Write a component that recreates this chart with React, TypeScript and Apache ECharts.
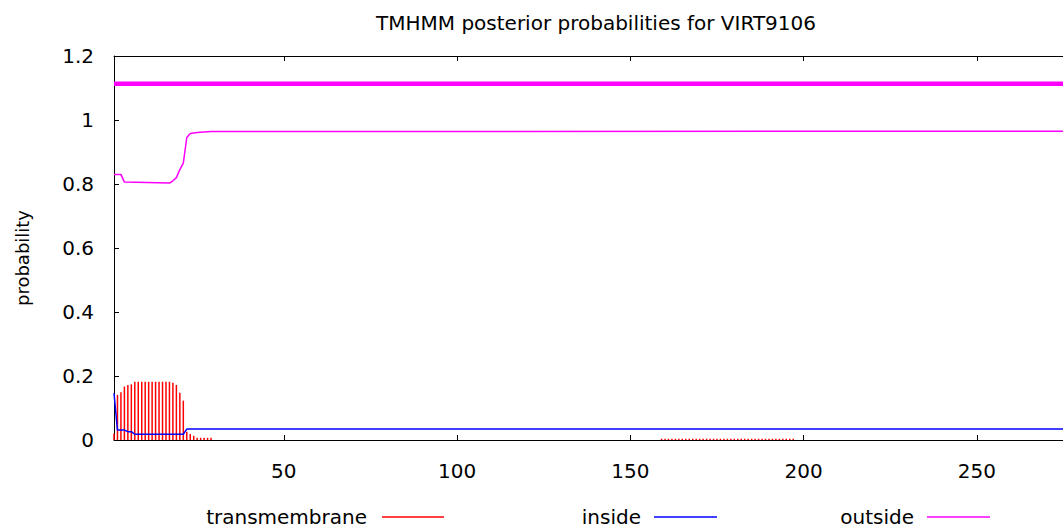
import React, { useEffect, useRef } from "react";
import * as echarts from "echarts";

// ---- data ----
const titleText = "TMHMM posterior probabilities for VIRT9106";
const yLabel = "probability";
const xTickValues = [50, 100, 150, 200, 250];
const xMin = 1;
const xMax = 276;

// transmembrane posterior (impulses)
const tmResidues = [
  1, 2, 3, 4, 5, 6, 7, 8, 9, 10, 11, 12, 13, 14, 15, 16, 17, 18, 19, 20, 21, 22, 23, 24, 25, 26, 27, 28, 29,
];
const tmValues = [
  0.02, 0.141, 0.149, 0.167, 0.172, 0.174, 0.182, 0.182, 0.182, 0.182, 0.182, 0.182, 0.182, 0.182, 0.182,
  0.182, 0.182, 0.179, 0.172, 0.148, 0.123, 0.026, 0.019, 0.013, 0.007, 0.007, 0.007, 0.007, 0.007,
];
const tmLowResidues = [
  159, 160, 161, 162, 163, 164, 165, 166, 167, 168, 169, 170, 171, 172, 173, 174, 175, 176, 177, 178, 179,
  180, 181, 182, 183, 184, 185, 186, 187, 188, 189, 190, 191, 192, 193, 194, 195, 196, 197,
];
const tmLowValues = [
  0.004, 0.004, 0.004, 0.004, 0.004, 0.004, 0.004, 0.004, 0.004, 0.004, 0.004, 0.004, 0.004, 0.004, 0.004,
  0.004, 0.004, 0.004, 0.004, 0.004, 0.004, 0.004, 0.004, 0.004, 0.004, 0.004, 0.004, 0.004, 0.004, 0.004,
  0.004, 0.004, 0.004, 0.004, 0.004, 0.004, 0.004, 0.004, 0.004,
];

// inside posterior
const insideX = [1, 2, 4, 5, 6, 7, 21, 22, 276];
const insideY = [0.146, 0.031, 0.031, 0.026, 0.026, 0.018, 0.018, 0.034, 0.034];

// outside posterior
const outsideX = [1, 3, 4, 17, 18, 19, 20, 21, 22, 23, 25, 29, 276];
const outsideY = [0.83, 0.83, 0.806, 0.803, 0.81, 0.82, 0.845, 0.865, 0.945, 0.958, 0.961, 0.964, 0.965];

// predicted topology (outside over the whole sequence)
const topoX = [1, 276];
const topoY = [1.113, 1.113];

const legendNames = ["transmembrane", "inside", "outside"];
const legendColors = ["#ff0000", "#0000ff", "#ff00ff"];

const FONT = "DejaVu Sans";
const FS = 20;

const zip = (xs: number[], ys: number[]) => xs.map((x, i) => [x, ys[i]]);

export default function App() {
  const ref = useRef<HTMLDivElement>(null);

  useEffect(() => {
    if (!ref.current) return;
    const chart = echarts.init(ref.current, null, { renderer: "svg" });

    const legendLayout = [
      { textRight: 367, lineX1: 382, lineX2: 444 },
      { textRight: 641, lineX1: 654, lineX2: 717 },
      { textRight: 914, lineX1: 927, lineX2: 990 },
    ];
    const legendY = 517;
    const legendGraphics: any[] = [];
    legendNames.forEach((name, i) => {
      const l = legendLayout[i];
      legendGraphics.push({
        type: "text",
        x: l.textRight,
        y: legendY,
        style: {
          text: name,
          textAlign: "right",
          textVerticalAlign: "middle",
          fontFamily: FONT,
          fontSize: FS,
          fill: "#000",
        },
      });
      legendGraphics.push({
        type: "line",
        shape: { x1: l.lineX1, y1: legendY, x2: l.lineX2, y2: legendY },
        style: { stroke: legendColors[i], lineWidth: 1.5 },
      });
    });

    const axisLineStyle = { color: "#000", width: 1 };

    chart.setOption({
      animation: false,
      backgroundColor: "#fff",
      title: {
        text: titleText,
        left: 591,
        top: 8,
        textAlign: "center",
        textStyle: { fontFamily: FONT, fontSize: FS, fontWeight: "normal", color: "#000" },
      },
      grid: { left: 114, top: 56, right: 3, bottom: 89 },
      xAxis: [
        {
          type: "value",
          min: xMin,
          max: xMax,
          position: "bottom",
          axisLine: { show: true, lineStyle: axisLineStyle },
          axisTick: { show: true, inside: true, length: 5, lineStyle: axisLineStyle, customValues: xTickValues },
          axisLabel: {
            show: true,
            customValues: xTickValues,
            margin: 21,
            fontFamily: FONT,
            fontSize: FS,
            color: "#000",
          },
          splitLine: { show: false },
        },
        {
          type: "value",
          min: xMin,
          max: xMax,
          position: "top",
          axisLine: { show: true, onZero: false, lineStyle: axisLineStyle },
          axisTick: { show: true, inside: true, length: 5, lineStyle: axisLineStyle, customValues: xTickValues },
          axisLabel: { show: false },
          splitLine: { show: false },
        },
      ],
      yAxis: {
        type: "value",
        min: 0,
        max: 1.2,
        interval: 0.2,
        axisLine: { show: true, lineStyle: axisLineStyle },
        axisTick: { show: true, inside: true, length: 5, lineStyle: axisLineStyle },
        axisLabel: { margin: 20, fontFamily: FONT, fontSize: FS, color: "#000" },
        splitLine: { show: false },
      },
      graphic: [
        {
          type: "text",
          x: 22,
          y: 258,
          rotation: Math.PI / 2,
          style: {
            text: yLabel,
            textAlign: "center",
            textVerticalAlign: "middle",
            fontFamily: FONT,
            fontSize: 18,
            fill: "#000",
          },
        },
        ...legendGraphics,
      ],
      series: [
        {
          name: "transmembrane",
          type: "bar",
          barWidth: 1.5,
          itemStyle: { color: "#ff0000" },
          data: [...zip(tmResidues, tmValues), ...zip(tmLowResidues, tmLowValues)],
        },
        {
          name: "inside",
          type: "line",
          showSymbol: false,
          lineStyle: { color: "#0000ff", width: 1.5 },
          itemStyle: { color: "#0000ff" },
          data: zip(insideX, insideY),
        },
        {
          name: "outside",
          type: "line",
          showSymbol: false,
          lineStyle: { color: "#ff00ff", width: 1.5 },
          itemStyle: { color: "#ff00ff" },
          data: zip(outsideX, outsideY),
        },
        {
          name: "topology",
          type: "line",
          showSymbol: false,
          lineStyle: { color: "#ff00ff", width: 4.5 },
          itemStyle: { color: "#ff00ff" },
          data: zip(topoX, topoY),
        },
      ],
    });

    return () => chart.dispose();
  }, []);

  return (
    <div
      style={{
        position: "absolute",
        left: 0,
        top: 0,
        width: 1063,
        height: 529,
        overflow: "hidden",
        background: "#fff",
      }}
    >
      <div ref={ref} style={{ width: 1070, height: 529 }} />
    </div>
  );
}
